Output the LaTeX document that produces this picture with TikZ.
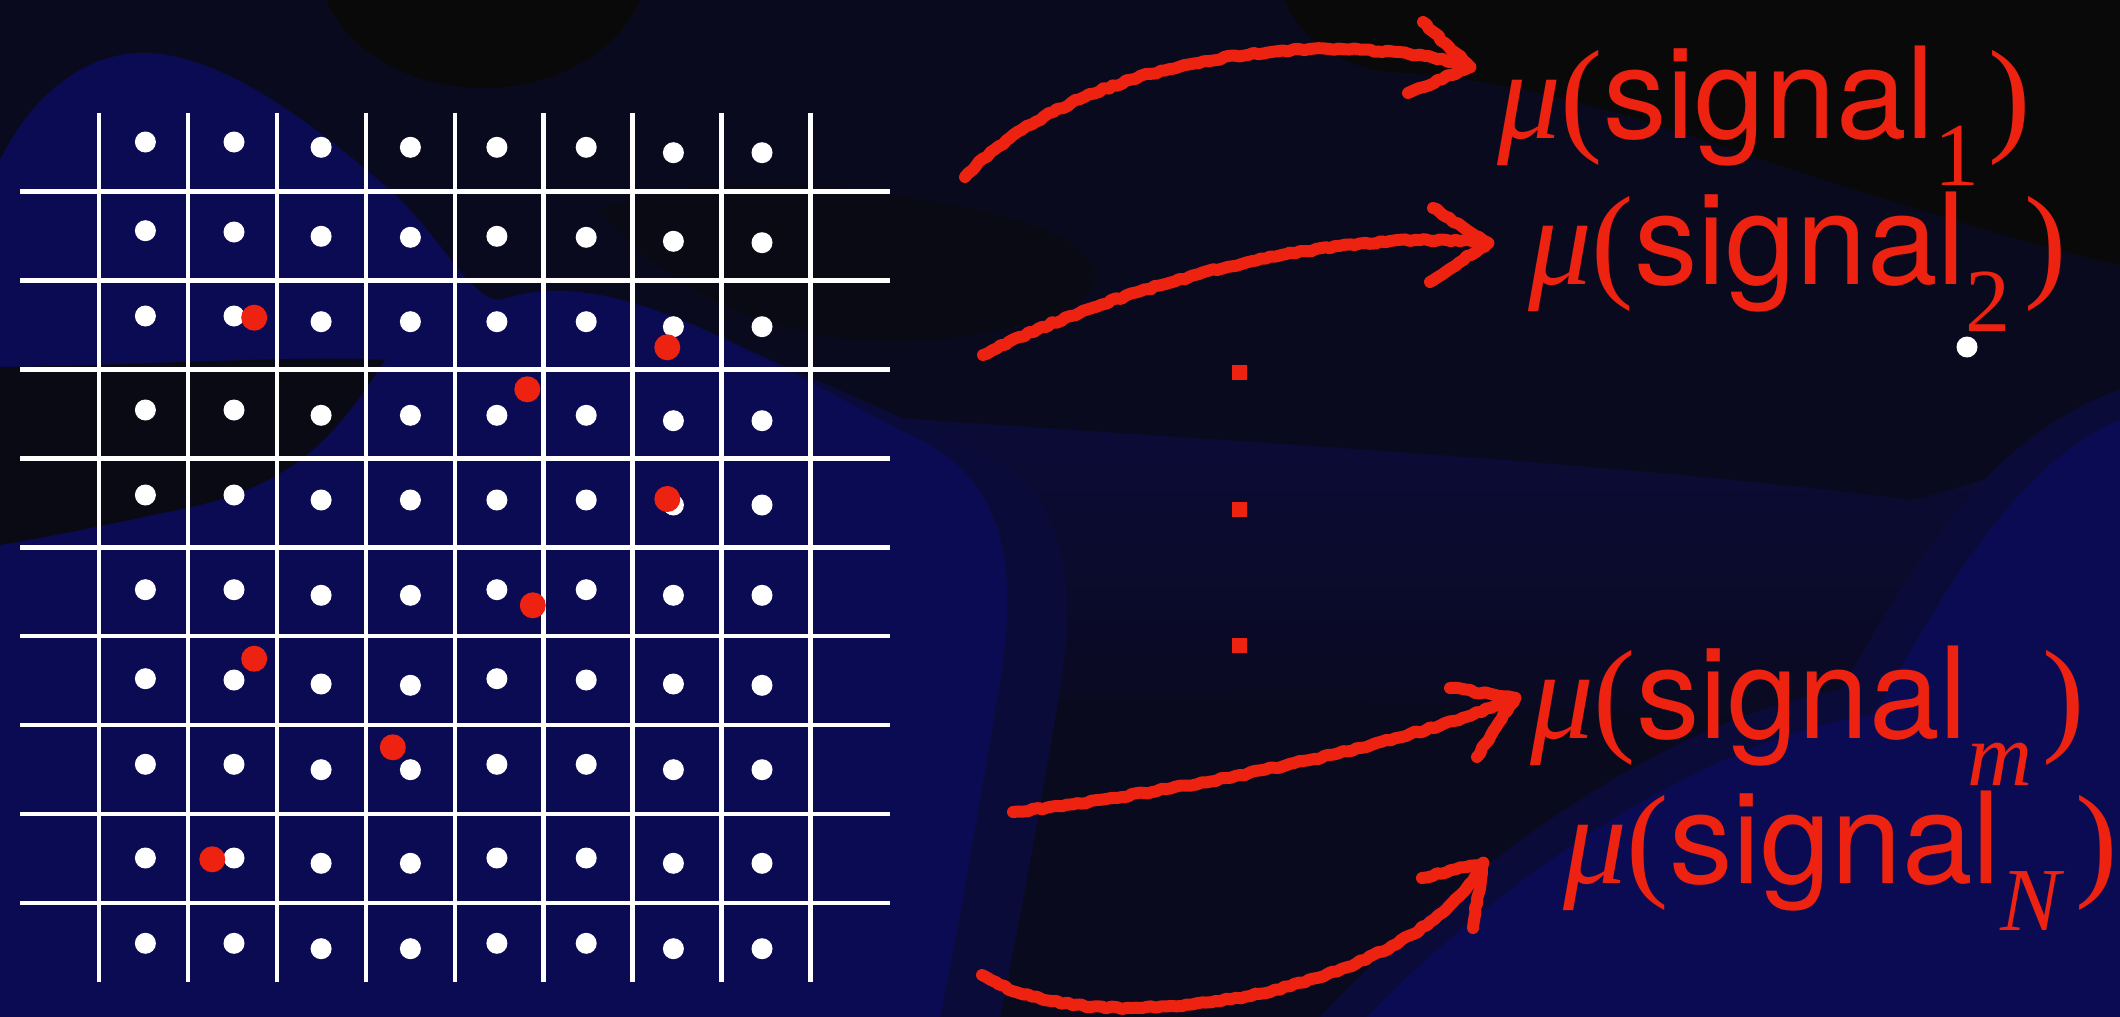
\documentclass[tikz,border=0pt]{standalone}
\usepackage{fontspec}
\newfontfamily\heros{TeX Gyre Heros}
\newfontfamily\tnr{Liberation Serif}
\usetikzlibrary{decorations.pathmorphing}
\definecolor{bgnavy}{RGB}{10,10,30}
\definecolor{bgblack}{RGB}{9,9,10}
\definecolor{bgdark}{RGB}{10,10,20}
\definecolor{bgblue}{RGB}{11,11,84}
\definecolor{bghalo}{RGB}{11,11,58}
\definecolor{bgmid}{RGB}{11,11,56}
\definecolor{sigred}{RGB}{238,34,16}
\newcommand\subx[1]{\smash{\raisebox{-47pt}{\tnr\fontsize{90}{90}\selectfont #1}}}
\tikzset{
  gridline/.style={draw=white, line width=4.5pt},
  lab/.style={text=sigred, inner sep=0pt, anchor=base west, font=\fontsize{127}{127}\selectfont},
  chalk/.style={draw=sigred, line width=12pt, line cap=round, line join=round,
    decorate, decoration={random steps, segment length=5pt, amplitude=1.2pt}},
  wdot/.style={fill=white},
  rdot/.style={fill=sigred},
}
\pgfmathsetseed{7}
\begin{document}
\begin{tikzpicture}[x=1pt,y=-1pt]
\useasboundingbox (0,0) rectangle (2120,1017);
% background
\fill[bgnavy] (0,0) rectangle (2120,1017);
\fill[bgblack] (483,-40) ellipse[x radius=165, y radius=128];
\fill[bgblack] (1285,0) .. controls (1300,40) and (1340,66) .. (1390,72)
  .. controls (1550,80) and (1700,140) .. (1800,172)
  .. controls (1950,220) and (2050,250) .. (2120,265) -- (2120,0) -- cycle;
\fill[bgdark] (600,210) .. controls (700,170) and (850,180) .. (1000,215)
  .. controls (1100,240) and (1150,300) .. (1000,330)
  .. controls (850,360) and (700,330) .. cycle;
\shade[top color=bgmid, bottom color=bgnavy] (900,418) .. controls (1200,440) and (1600,460) .. (1911,500)
  .. controls (2000,480) and (2080,440) .. (2120,430) -- (2120,760)
  .. controls (1800,700) and (1300,700) .. (1000,700) -- cycle;
% soft halo around the main blue region
\fill[bghalo] (700,330) .. controls (800,370) and (900,420) .. (980,450)
  .. controls (1060,490) and (1080,570) .. (1060,690)
  .. controls (1040,810) and (1020,920) .. (1000,1017) -- (900,1017) -- (700,700) -- cycle;
\fill[bgblue] (0,160) .. controls (40,80) and (100,50) .. (150,53)
  .. controls (230,58) and (320,130) .. (390,190)
  .. controls (440,235) and (470,300) .. (500,300)
  .. controls (530,290) and (560,288) .. (600,295)
  .. controls (700,315) and (800,380) .. (920,440)
  .. controls (1000,480) and (1020,560) .. (1000,680)
  .. controls (980,800) and (960,920) .. (940,1017) -- (0,1017) -- cycle;
\fill[bgdark] (0,367) .. controls (150,365) and (300,355) .. (385,360)
  .. controls (340,430) and (300,480) .. (200,505)
  .. controls (130,520) and (60,535) .. (0,545) -- cycle;
\fill[bghalo] (1320,1017) .. controls (1460,870) and (1660,720) .. (1840,690)
  .. controls (1890,610) and (1970,440) .. (2120,390) -- (2120,1017) -- cycle;
\fill[bgblue] (1367,1017) .. controls (1500,880) and (1700,740) .. (1873,715)
  .. controls (1920,640) and (2000,470) .. (2120,420) -- (2120,1017) -- cycle;
% grid
\foreach \i in {0,...,8}{
  \draw[gridline] ({99.2+88.9*\i},112.7) -- ({99.2+88.9*\i},982);
  \draw[gridline] (20,{191.7+88.9*\i}) -- (890,{191.7+88.9*\i});
}
% white dots
\def\colx{{145.4,234,321.1,410.4,496.9,586.2,673.4,762}}
\foreach \ys in {
  {142,142,147.3,147.3,147.3,147.3,152.7,152.7},
  {230.7,232,236.3,237.3,236.3,237.3,241.3,242.7},
  {316,316,321.7,321.7,321.7,321.7,326.7,326.7},
  {410,410,415.3,415.3,415.3,415.3,420.7,420.7},
  {495,495,500,500,500,500,505,505},
  {589.7,589.7,595.3,595.3,589.7,589.7,595.3,595.3},
  {678.7,680,684,685.3,678.7,680,684,685.3},
  {764.3,764.3,769.7,769.7,764.3,764.3,769.7,769.7},
  {858,858,863.3,863.3,858,858,863.3,863.3},
  {943.3,943.3,948.7,948.7,943.3,943.3,948.7,948.7}}{
  \foreach \yy [count=\c from 0] in \ys {
    \pgfmathsetmacro\xx{\colx[\c]}
    \fill[wdot] (\xx,\yy) circle[radius=10.5];
  }
}
\fill[wdot] (1967,347) circle[radius=10.5];
% red dots
\foreach \p in {(254.2,317.7),(667.3,347.3),(527.3,389.3),(667.3,499),(532.8,605.3),(254.2,658.7),(392.8,747.3),(212.3,859.3)}
  \fill[rdot] \p circle[radius=13];
% vertical ellipsis
\foreach \yy in {372.5,509,645.5}
  \fill[sigred] (1232,\yy-7.5) rectangle (1247,\yy+7.5);
% labels
\node[lab] (s1) at (1497,138.3) {\tnr\itshape μ\upshape(\heros signal\subx{1}\kern9pt\tnr)};
\node[lab] (s2) at (1528,284) {\tnr\itshape μ\upshape(\heros signal\subx{2}\kern14pt\tnr)};
\node[lab] (sm) at (1530,738.3) {\tnr\itshape μ\upshape(\heros signal\subx{\itshape m}\kern10pt\tnr)};
\node[lab] (sn) at (1563,883.3) {\tnr\itshape μ\upshape(\heros signal\subx{\itshape N}\kern14pt\tnr)};
% arrows
\coordinate (a1s) at (965,177); \coordinate (a1t) at (1470,67);
\coordinate (a1u) at (1423,22); \coordinate (a1l) at (1408,93);
\coordinate (a2s) at (983,355); \coordinate (a2t) at (1488,243);
\coordinate (a2u) at (1433,208); \coordinate (a2l) at (1430,282);
\coordinate (a3s) at (1013,812); \coordinate (a3t) at (1515,698);
\coordinate (a3u) at (1450,688); \coordinate (a3l) at (1477,757);
\coordinate (a4s) at (982,975); \coordinate (a4t) at (1483,863);
\coordinate (a4u) at (1422,878); \coordinate (a4l) at (1473,928);
\draw[chalk] (a1s) .. controls (1080,55) and (1330,25) .. (a1t);
\draw[chalk] (a1u) -- (a1t) -- (a1l);
\draw[chalk] (a2s) .. controls (1110,290) and (1330,225) .. (a2t);
\draw[chalk] (a2u) -- (a2t) -- (a2l);
\draw[chalk] (a3s) .. controls (1200,790) and (1420,740) .. (a3t);
\draw[chalk] (a3u) -- (a3t) -- (a3l);
\draw[chalk] (a4s) .. controls (1100,1050) and (1420,990) .. (a4t);
\draw[chalk] (a4u) -- (a4t) -- (a4l);
\end{tikzpicture}
\end{document}
